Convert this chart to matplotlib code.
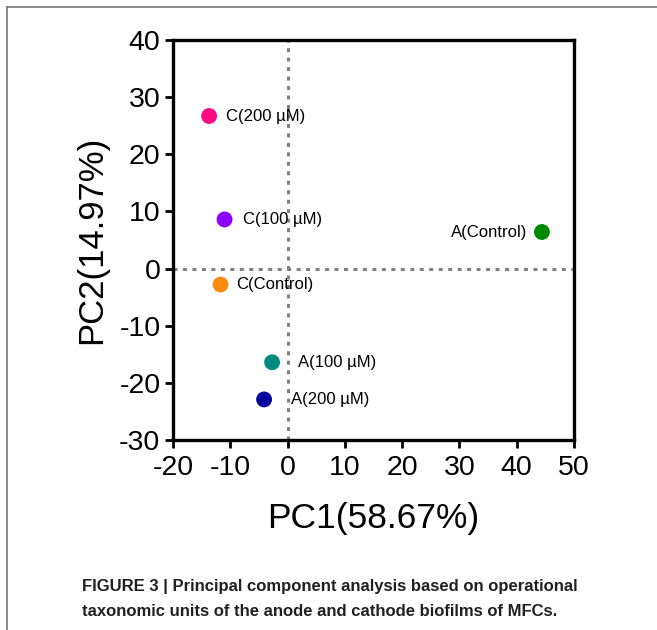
import matplotlib.pyplot as plt
from matplotlib.lines import Line2D

plt.rcParams['font.family'] = ['Liberation Sans', 'DejaVu Sans']
plt.rcParams['axes.unicode_minus'] = False

# PCA scores
labels = ['C(200 µM)', 'C(100 µM)', 'A(Control)', 'C(Control)', 'A(100 µM)', 'A(200 µM)']
pc1 = [-13.7, -11.0, 44.4, -11.7, -2.7, -4.1]
pc2 = [26.7, 8.6, 6.4, -2.8, -16.4, -22.9]
colors = ['#ff0a84', '#8c00ff', '#008a00', '#ff8a12', '#008a80', '#00009c']
# label offsets in pixels (dx, horizontal alignment)
offsets = [(17, 'left'), (18, 'left'), (-15, 'right'), (16, 'left'), (26, 'left'), (27, 'left')]

xticks = [-20, -10, 0, 10, 20, 30, 40, 50]
yticks = [-30, -20, -10, 0, 10, 20, 30, 40]

fig = plt.figure(figsize=(6.57, 6.30), dpi=100)
ax = fig.add_axes([173 / 657, 1 - 440 / 630, 401 / 657, 400 / 630])

ax.axhline(0, color='#808080', lw=2.2, dashes=(1.3, 1.8), zorder=1)
ax.axvline(0, color='#808080', lw=2.2, dashes=(1.3, 1.8), zorder=1)

ax.scatter(pc1, pc2, s=130, c=colors, edgecolors='none', zorder=3)
for x, y, lab, (dx, ha) in zip(pc1, pc2, labels, offsets):
    ax.annotate(lab, (x, y), xytext=(dx * 0.72, 0), textcoords='offset points',
                ha=ha, va='center', fontsize=12, zorder=4)

ax.set_xlim(-20, 50)
ax.set_ylim(-30, 40)
ax.set_xticks(xticks)
ax.set_yticks(yticks)
ax.tick_params(direction='out', length=6, width=2, labelsize=20.5)
ax.tick_params(axis='x', pad=5)
ax.tick_params(axis='y', pad=3)
for sp in ax.spines.values():
    sp.set_linewidth(2.4)

ax.set_xlabel('PC1(58.67%)', fontsize=25.5)
ax.set_ylabel('PC2(14.97%)', fontsize=25)
ax.xaxis.set_label_coords(0.5, -0.155)
ax.yaxis.set_label_coords(-0.163, 0.5)

# caption
cap_font = ['Liberation Sans Narrow', 'Liberation Sans']
fig.text(82 / 657, 1 - 587 / 630, 'FIGURE 3 | Principal component analysis based on operational',
         fontsize=12, fontweight='bold', family=cap_font, va='center', color='#231f20')
fig.text(82 / 657, 1 - 611 / 630, 'taxonomic units of the anode and cathode biofilms of MFCs.',
         fontsize=12, fontweight='bold', family=cap_font, va='center', color='#231f20')

# page frame (top and left rules)
fig.add_artist(Line2D([7 / 657, 1], [1 - 7 / 630, 1 - 7 / 630], color='#777777', lw=1.2))
fig.add_artist(Line2D([7 / 657, 7 / 657], [1 - 7 / 630, 0], color='#777777', lw=1.2))

fig.savefig('out.png', dpi=100)
